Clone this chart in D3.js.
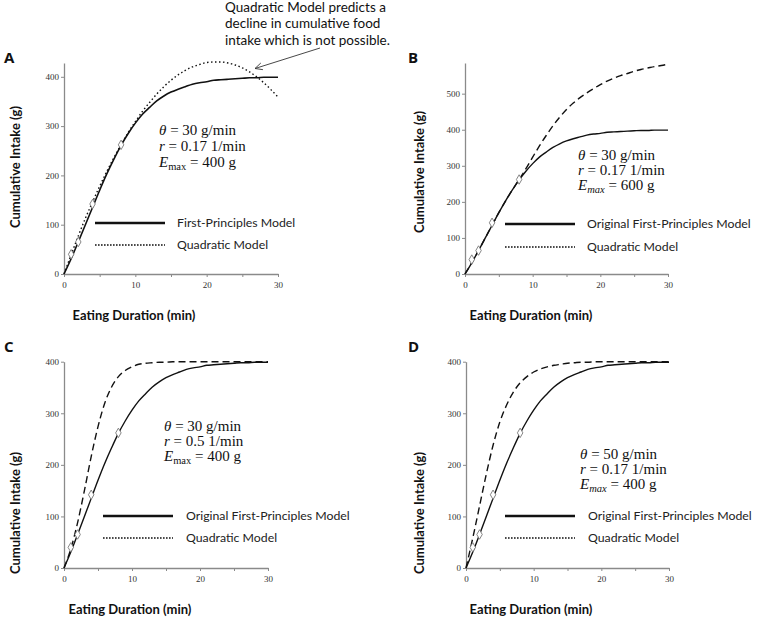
<!DOCTYPE html>
<html><head><meta charset="utf-8">
<script src="https://cdn.jsdelivr.net/npm/d3@7"></script>
<style>body{margin:0;background:#fff}</style>
</head><body>
<svg id="c" width="757" height="618" xmlns="http://www.w3.org/2000/svg"></svg>
<script>
// ---------------- data ----------------
const minutes = [0,1,2,3,4,5,6,7,8,9,10,11,12,13,14,15,16,17,18,19,20,21,22,23,24,25,26,27,28,29,30];
const observedMinutes = [1,2,4,8];
const observedIntake  = [40,65,142,262];
// First-principles model, theta=30, r=0.17, Emax=400
const fpOriginal = [0,31,65,100,135,170,203,233,261,285,306,324,338,351,361,369,375,380,385,388,390,393,394,395,396,397,398,398,399,399,399];
// Quadratic model (panel A)
const quadratic  = [0,39,77,113,146,178,208,236,262,287,309,330,348,365,380,393,404,413,420,425,429,430,430,428,424,418,410,400,388,374,359];
// Panel B: Emax = 600
const fpEmax600  = [0,31,65,100,135,170,203,233,262,292,324,355,384,411,435,456,474,489,502,514,525,535,543,550,556,562,567,571,575,578,582];
// Panel C: r = 0.5
const fpR05      = [0,37,88,150,216,274,320,351,371,383,390,395,397,398,399,399,400,400,400,400,400,400,400,400,400,400,400,400,400,400,400];
// Panel D: theta = 50
const fpTheta50  = [0,58,120,182,238,283,316,341,359,371,380,386,390,393,395,397,398,399,399,400,400,400,400,400,400,400,400,400,400,400,400];

const xTickValues = [0,5,10,15,20,25,30];
const xTickLabels = [0,10,20,30];
const yTicksA = [0,100,200,300,400];
const yTicksB = [0,100,200,300,400,500];
const yTicksCD = [0,100,200,300,400];

const legendSolidA = "First-Principles Model";
const legendSolid  = "Original First-Principles Model";
const legendDotted = "Quadratic Model";
const xTitle = "Eating Duration (min)";
const yTitle = "Cumulative Intake (g)";
const noteLines = ["Quadratic Model predicts a", "decline in cumulative food", "intake which is not possible."];

// ---------------- layout ----------------
const svg = d3.select("#c");
const sansB = "Lato, 'Open Sans', sans-serif";
const serif = "'Liberation Serif', 'DejaVu Serif', serif";

const panels = [
  {label:"A", lab:[4,63], x:[64,278], y:[274,63], yMax:428, yTicks:yTicksA,
   curves:[{v:fpOriginal, dash:null, w:1.6},{v:quadratic, dash:"1.5,2.5", w:1.4}],
   params:["30","0.17","400"], pxy:[159,135], pdy:16,
   leg:{x1:95,x2:165,y1:223,y2:245,tx:177,text:legendSolidA},
   ytitle:[15,167], xtitle:[134,315]},
  {label:"B", lab:[408,63], x:[465,668], y:[274,63], yMax:585, yTicks:yTicksB,
   curves:[{v:fpOriginal, dash:null, w:1.4},{v:fpEmax600, dash:"7,4", w:1.4}],
   params:["30","0.17","600"], pxy:[578,160], pdy:15,
   leg:{x1:505,x2:575,y1:224,y2:247,tx:587,text:legendSolid},
   ytitle:[419,172], xtitle:[531,315], emaxItalic:true},
  {label:"C", lab:[4,352], x:[64,268], y:[568,361.7], yMax:400, yTicks:yTicksCD,
   curves:[{v:fpOriginal, dash:null, w:1.4},{v:fpR05, dash:"7,4", w:1.4}],
   params:["30","0.5","400"], pxy:[164,431], pdy:15,
   leg:{x1:103,x2:173,y1:516,y2:538,tx:186,text:legendSolid},
   ytitle:[15,513], xtitle:[130,609]},
  {label:"D", lab:[408,352], x:[466,669], y:[568,361.7], yMax:400, yTicks:yTicksCD,
   curves:[{v:fpOriginal, dash:null, w:1.4},{v:fpTheta50, dash:"7,4", w:1.4}],
   params:["50","0.17","400"], pxy:[580,459], pdy:15,
   leg:{x1:505,x2:575,y1:516,y2:538,tx:588,text:legendSolid},
   ytitle:[419,513], xtitle:[531,609], emaxItalic:true}
];

panels.forEach(p => {
  const g = svg.append("g");
  const x = d3.scaleLinear().domain([0,30]).range(p.x);
  const y = d3.scaleLinear().domain([0,p.yMax]).range(p.y);

  // axes
  const xa = g.append("g").attr("transform",`translate(0,${p.y[0]})`)
    .call(d3.axisBottom(x).tickValues(xTickValues).tickSize(3).tickSizeOuter(0)
      .tickFormat(d => xTickLabels.includes(d) ? d : ""));
  const ya = g.append("g").attr("transform",`translate(${p.x[0]},0)`)
    .call(d3.axisLeft(y).tickValues(p.yTicks).tickSize(3).tickSizeOuter(0).tickPadding(2));
  [xa,ya].forEach(a => {
    a.select(".domain").attr("stroke","#8a8a8a").attr("stroke-width",1.3);
    a.selectAll(".tick line").attr("stroke","#8a8a8a");
    a.selectAll("text").attr("font-family",serif).attr("font-size",9).attr("fill","#333");
  });
  xa.selectAll("text").attr("dy","0.9em");

  // curves
  const line = d3.line().x((d,i)=>x(minutes[i])).y(d=>y(d)).curve(d3.curveMonotoneX);
  p.curves.forEach(c => {
    g.append("path").attr("d", line(c.v)).attr("fill","none").attr("stroke","#111")
      .attr("stroke-width", c.w).attr("stroke-dasharray", c.dash);
  });

  // observed points
  g.selectAll(".pt").data(observedMinutes).join("path")
    .attr("d", d3.symbol(d3.symbolDiamond, 26))
    .attr("transform",(d,i)=>`translate(${x(d)},${y(observedIntake[i])})`)
    .attr("fill","#fff").attr("stroke","#777").attr("stroke-width",0.9);

  // parameter text
  const pt = g.append("g").attr("font-family",serif).attr("font-size",15).attr("fill","#111");
  const t1 = pt.append("text").attr("x",p.pxy[0]).attr("y",p.pxy[1]);
  t1.append("tspan").attr("font-style","italic").text("θ");
  t1.append("tspan").text(` = ${p.params[0]} g/min`);
  const t2 = pt.append("text").attr("x",p.pxy[0]).attr("y",p.pxy[1]+p.pdy);
  t2.append("tspan").attr("font-style","italic").text("r");
  t2.append("tspan").text(` = ${p.params[1]} 1/min`);
  const t3 = pt.append("text").attr("x",p.pxy[0]).attr("y",p.pxy[1]+2*p.pdy);
  t3.append("tspan").attr("font-style","italic").text("E");
  t3.append("tspan").attr("font-size",10.5).attr("dy",3).attr("font-style", p.emaxItalic ? "italic":"normal").text("max");
  t3.append("tspan").attr("dy",-3).text(` = ${p.params[2]} g`);

  // legend
  const L = p.leg;
  g.append("line").attr("x1",L.x1).attr("x2",L.x2).attr("y1",L.y1).attr("y2",L.y1)
    .attr("stroke","#111").attr("stroke-width",2.4);
  g.append("line").attr("x1",L.x1).attr("x2",L.x2).attr("y1",L.y2).attr("y2",L.y2)
    .attr("stroke","#111").attr("stroke-width",1.6).attr("stroke-dasharray","1.6,1.4");
  g.append("text").attr("x",L.tx).attr("y",L.y1).attr("dy","0.35em")
    .attr("font-family",sansB).attr("font-size",12.3).attr("fill","#222").text(L.text);
  g.append("text").attr("x",L.tx).attr("y",L.y2).attr("dy","0.35em")
    .attr("font-family",sansB).attr("font-size",12.3).attr("fill","#222").text(legendDotted);

  // titles
  g.append("text").attr("transform",`translate(${p.ytitle[0]},${p.ytitle[1]}) rotate(-90)`)
    .attr("text-anchor","middle").attr("dy","0.35em")
    .attr("font-family",sansB).attr("font-weight","bold").attr("font-size",13).attr("fill","#111").text(yTitle);
  g.append("text").attr("x",p.xtitle[0]).attr("y",p.xtitle[1]).attr("text-anchor","middle").attr("dy","0.35em")
    .attr("font-family",sansB).attr("font-weight","bold").attr("font-size",13).attr("fill","#111").text(xTitle);

  // panel label
  g.append("text").attr("x",p.lab[0]).attr("y",p.lab[1]).attr("font-family","'Open Sans', Arial, sans-serif")
    .attr("font-weight","bold").attr("font-size",15).attr("fill","#111").text(p.label);
});

// annotation in panel A
const note = svg.append("text").attr("font-family",sansB).attr("font-size",13.5).attr("fill","#111");
noteLines.forEach((s,i) => note.append("tspan").attr("x",225).attr("y",12 + i*16.3).text(s));
const ax1 = 320, ay1 = 48, ax2 = 255, ay2 = 68.5;
svg.append("line").attr("x1",ax1).attr("y1",ay1).attr("x2",ax2).attr("y2",ay2).attr("stroke","#333").attr("stroke-width",0.9);
const ang = Math.atan2(ay1-ay2, ax1-ax2);
[0.45,-0.45].forEach(da => {
  svg.append("line").attr("x1",ax2).attr("y1",ay2)
    .attr("x2",ax2 + 8*Math.cos(ang+da)).attr("y2",ay2 + 8*Math.sin(ang+da))
    .attr("stroke","#333").attr("stroke-width",0.9);
});
</script>
</body></html>
